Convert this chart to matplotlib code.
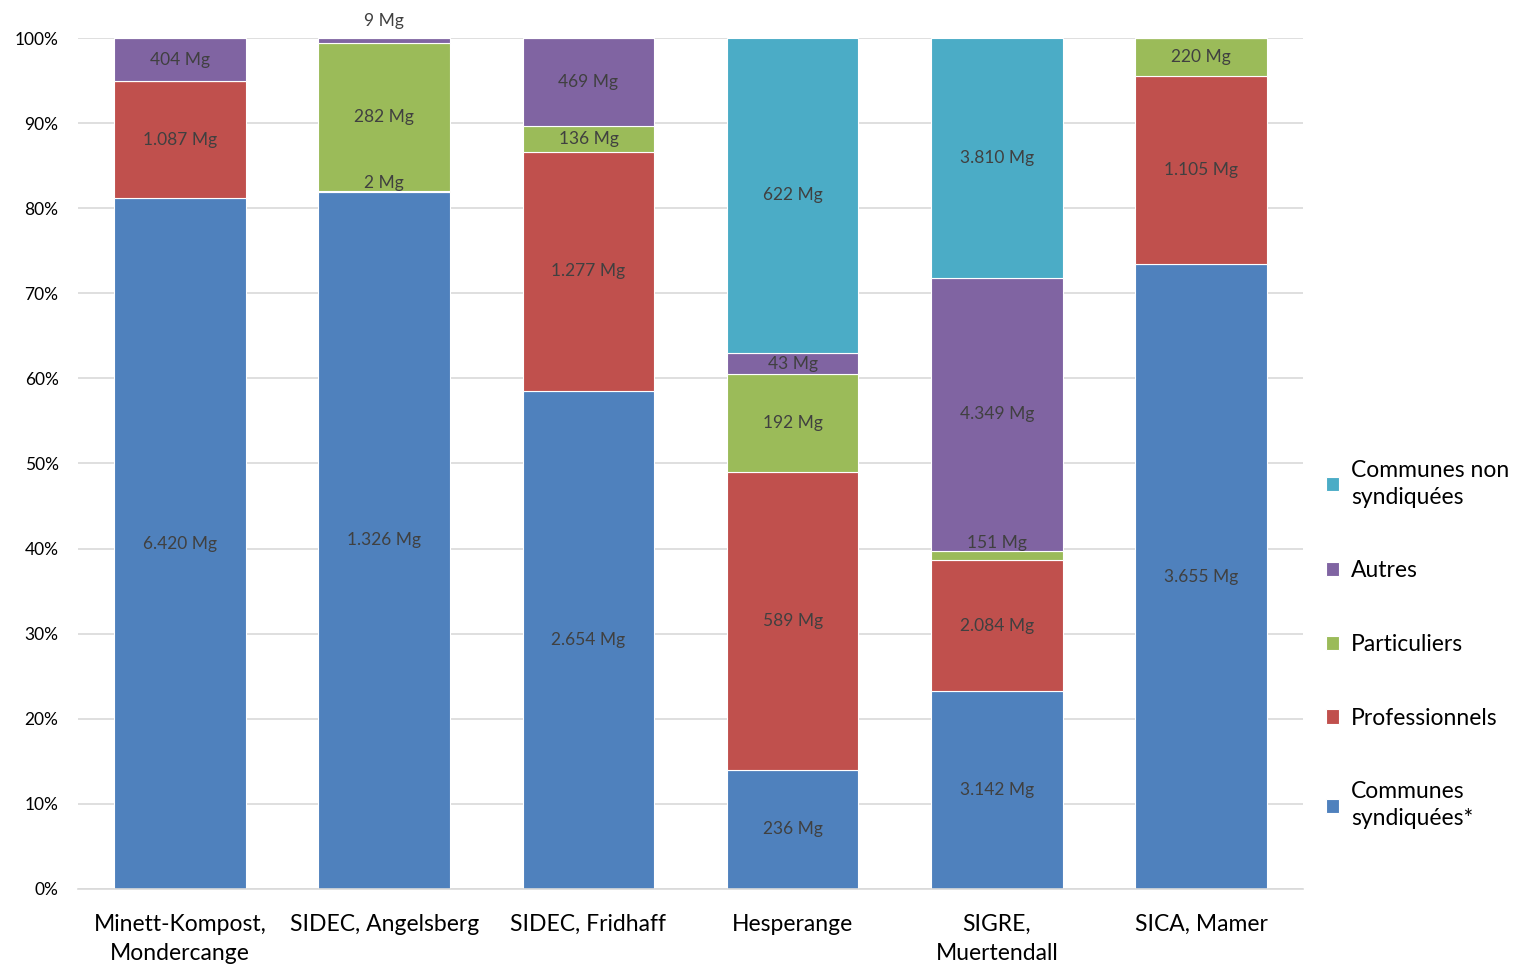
import numpy as np
import matplotlib.pyplot as plt
from matplotlib.ticker import PercentFormatter

plt.rcParams['font.family'] = ['Lato', 'DejaVu Sans']

# data (Mg)
categories = ['Minett-Kompost,\nMondercange', 'SIDEC, Angelsberg', 'SIDEC, Fridhaff',
              'Hesperange', 'SIGRE,\nMuertendall', 'SICA, Mamer']
communes_synd = [6420, 1326, 2654, 236, 3142, 3655]
professionnels = [1087, 2, 1277, 589, 2084, 1105]
particuliers = [0, 282, 136, 192, 151, 220]
autres = [404, 9, 469, 43, 4349, 0]
communes_non = [0, 0, 0, 622, 3810, 0]

series = [
    ('Communes\nsyndiquées*', communes_synd, '#4F81BD'),
    ('Professionnels', professionnels, '#C0504D'),
    ('Particuliers', particuliers, '#9BBB59'),
    ('Autres', autres, '#8064A2'),
    ('Communes non\nsyndiquées', communes_non, '#4BACC6'),
]

def fmt(v):
    return f'{v:,}'.replace(',', '.') + ' Mg'

totals = np.sum([np.array(s[1], dtype=float) for s in series], axis=0)
x = np.arange(len(categories))

fig = plt.figure(figsize=(15.21, 9.67), dpi=100)
ax = fig.add_axes([0.0513, 0.0807, 0.8054, 0.88])

bottom = np.zeros(len(categories))
handles = []
for name, vals, color in series:
    share = np.array(vals, dtype=float) / totals * 100
    h = ax.bar(x, share, 0.645, bottom=bottom, color=color, edgecolor='white',
               linewidth=0.8, label=name, zorder=2)
    handles.append(h)
    for i, (v, s) in enumerate(zip(vals, share)):
        if v == 0:
            continue
        top = bottom[i] + s
        if s < 1.5:
            # small slice: label sits just above it (pushed out when at the top)
            extra = 1.0 if top > 99 else 0.0
            ax.text(x[i], top + extra, fmt(v), ha='center', va='bottom',
                    fontsize=12.5, color='#404040', zorder=3, clip_on=False)
        else:
            ax.text(x[i], bottom[i] + s / 2, fmt(v), ha='center', va='center',
                    fontsize=12.5, color='#404040', zorder=3)
    bottom += share

ax.set_xlim(-0.5, len(categories) - 0.5)
ax.set_ylim(0, 100)
ax.set_yticks(np.arange(0, 101, 10))
ax.yaxis.set_major_formatter(PercentFormatter(decimals=0))
ax.grid(axis='y', color='#D9D9D9', linewidth=1.2, zorder=0)
ax.set_axisbelow(True)
for sp in ['top', 'right', 'left']:
    ax.spines[sp].set_visible(False)
ax.spines['bottom'].set_color('#D9D9D9')
ax.spines['bottom'].set_linewidth(1.2)
ax.tick_params(axis='both', length=0)
ax.tick_params(axis='y', labelsize=12.5, pad=14)
ax.set_xticks(x)
ax.set_xticklabels(categories, fontsize=16.5, linespacing=1.45)
ax.tick_params(axis='x', pad=18)

leg = fig.legend(handles[::-1], [s[0] for s in series][::-1], loc='upper left',
                 bbox_to_anchor=(0.858, 0.546), frameon=False, fontsize=16.5,
                 handlelength=0.6, handleheight=0.6, handletextpad=0.5,
                 labelspacing=2.3)
for t in leg.get_texts():
    t.set_linespacing(1.35)

fig.savefig('out.png', dpi=100)
